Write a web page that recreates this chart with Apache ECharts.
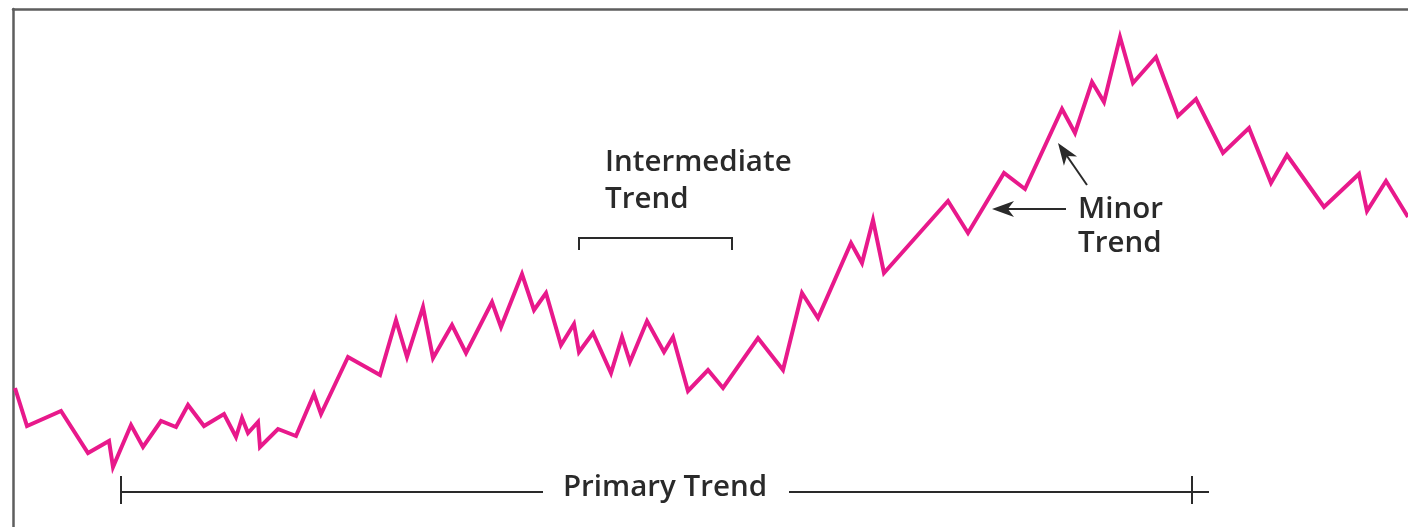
<!DOCTYPE html>
<html>
<head>
<meta charset="utf-8">
<script src="https://cdn.jsdelivr.net/npm/echarts@6/dist/echarts.min.js"></script>
<style>
html,body{margin:0;padding:0;background:#fff;}
#chart{width:1408px;height:527px;}
</style>
</head>
<body>
<div id="chart"></div>
<script>
// time position of each swing point (horizontal units)
const timeSteps = [15,27,61,88,109,113,131,143,161,176,188,204,224,236,242,248,258,260,278,296,314,321,348,380,396,407,423,433,452,466,492,501,522,534,546,561,574,579,593,611,622,630,647,664,673,688,708,723,758,783,802,818,851,862,873,884,948,968,1004,1025,1062,1075,1092,1104,1120,1133,1156,1178,1196,1223,1249,1271,1287,1324,1359,1367,1386,1408];
// price level at each swing point
const priceLevels = [139,101,116,74,86,60,102,80,106,100,122,101,113,90,109,94,105,80,98,91,133,113,170,152,207,170,220,169,202,174,225,200,253,217,234,182,203,175,194,154,190,165,206,175,190,136,157,139,189,157,234,209,284,264,307,254,326,294,354,338,418,394,445,425,490,444,470,411,428,374,399,344,372,320,353,316,346,310];

const labelIntermediate = ['Intermediate', 'Trend'];
const labelMinor = ['Minor', 'Trend'];
const labelPrimary = 'Primary Trend';

const seriesData = timeSteps.map((t, i) => [t, priceLevels[i]]);

const chart = echarts.init(document.getElementById('chart'));
const ink = '#2a2a2a';
const fontFamily = "'Open Sans', 'DejaVu Sans', sans-serif";
const fontSize = 29.5;

function arrowHead(tip, from, len, half) {
  const dx = tip[0] - from[0], dy = tip[1] - from[1];
  const L = Math.sqrt(dx*dx + dy*dy);
  const ux = dx / L, uy = dy / L;
  const px = -uy, py = ux;
  const bx = tip[0] - ux*len, by = tip[1] - uy*len;
  const nx = tip[0] - ux*len*0.72, ny = tip[1] - uy*len*0.72;
  return [tip, [bx + px*half, by + py*half], [nx, ny], [bx - px*half, by - py*half]];
}

function arrow(from, tip) {
  const dx = tip[0] - from[0], dy = tip[1] - from[1];
  const L = Math.sqrt(dx*dx + dy*dy);
  const end = [tip[0] - dx/L*14, tip[1] - dy/L*14];
  return [
    { type: 'line', shape: { x1: from[0], y1: from[1], x2: end[0], y2: end[1] }, style: { stroke: ink, lineWidth: 2 }, z: 10 },
    { type: 'polygon', shape: { points: arrowHead(tip, from, 22, 8) }, style: { fill: ink }, z: 10 }
  ];
}

function text(str, x, y, align) {
  return { type: 'text', x: x, y: y, z: 10,
    style: { text: str, fill: ink, font: '600 ' + fontSize + 'px ' + fontFamily, textAlign: align || 'left', textVerticalAlign: 'middle' } };
}

const graphics = [
  // Intermediate trend label + bracket
  text(labelIntermediate[0], 605, 163),
  text(labelIntermediate[1], 605, 200),
  { type: 'polyline', shape: { points: [[579,250],[579,238],[732,238],[732,250]] }, style: { stroke: ink, lineWidth: 2, fill: null }, z: 10 },
  // Minor trend label + arrows
  text(labelMinor[0], 1078, 210),
  text(labelMinor[1], 1078, 244),
  ...arrow([1066,209], [992,209]),
  ...arrow([1087,185], [1058,143]),
  // Primary trend
  text(labelPrimary, 665, 488, 'center'),
  { type: 'line', shape: { x1: 121, y1: 492, x2: 543, y2: 492 }, style: { stroke: ink, lineWidth: 2 }, z: 10 },
  { type: 'line', shape: { x1: 789, y1: 492, x2: 1209, y2: 492 }, style: { stroke: ink, lineWidth: 2 }, z: 10 },
  { type: 'line', shape: { x1: 121, y1: 476, x2: 121, y2: 504 }, style: { stroke: ink, lineWidth: 2 }, z: 10 },
  { type: 'line', shape: { x1: 1192, y1: 476, x2: 1192, y2: 504 }, style: { stroke: ink, lineWidth: 2 }, z: 10 }
];

chart.setOption({
  animation: false,
  backgroundColor: '#ffffff',
  grid: { left: 13, top: 9, right: 0, bottom: 0, containLabel: false },
  xAxis: {
    type: 'value', min: 13, max: 1408, position: 'top',
    axisLine: { show: true, onZero: false, lineStyle: { color: '#5e5e5e', width: 2.5 } },
    axisTick: { show: false }, axisLabel: { show: false }, splitLine: { show: false }
  },
  yAxis: {
    type: 'value', min: 0, max: 518, position: 'left',
    axisLine: { show: true, onZero: false, lineStyle: { color: '#5e5e5e', width: 2.5 } },
    axisTick: { show: false }, axisLabel: { show: false }, splitLine: { show: false }
  },
  series: [{
    type: 'line',
    data: seriesData,
    showSymbol: false,
    symbol: 'none',
    lineStyle: { color: '#e8198b', width: 4, join: 'miter' },
    clip: true
  }],
  graphic: graphics
});
</script>
</body>
</html>
